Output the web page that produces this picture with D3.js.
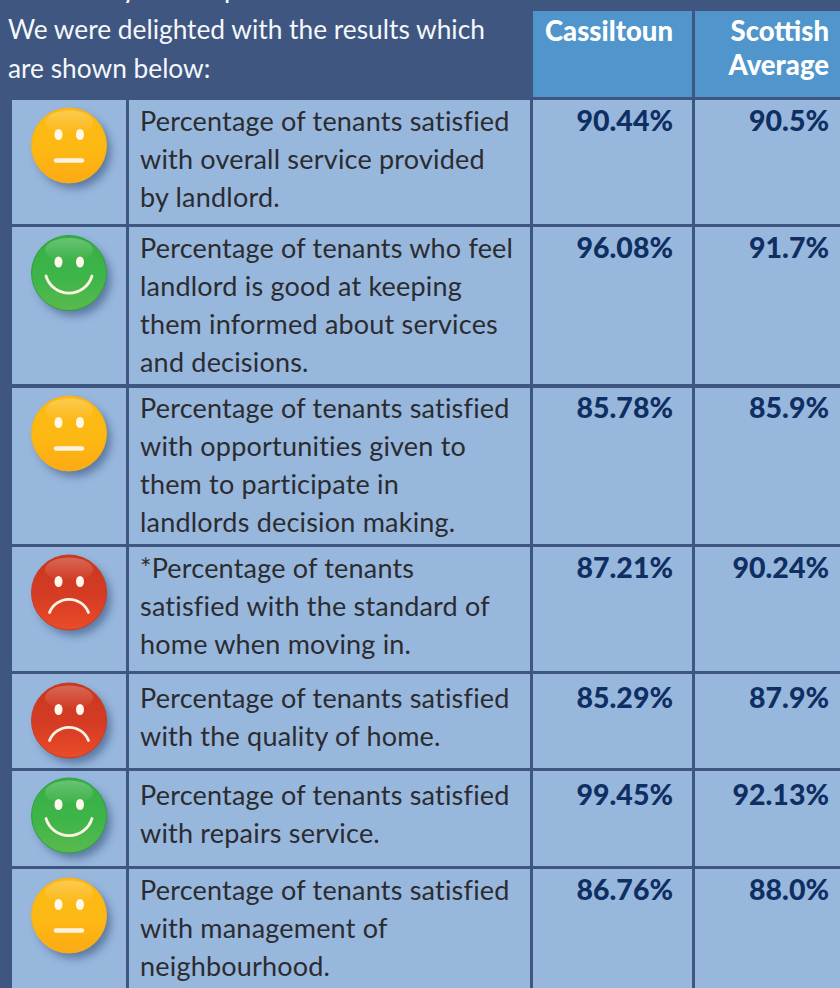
<!DOCTYPE html>
<html>
<head>
<meta charset="utf-8">
<style>
  html, body { margin: 0; padding: 0; background: #3e5680; overflow: hidden; }
  svg { display: block; }
  text { font-family: Lato, "Noto Sans", sans-serif; }
</style>
<script src="https://cdn.jsdelivr.net/npm/d3@7/dist/d3.min.js"></script>
</head>
<body>
<svg class="js-chart"></svg>
<script>
var introLines = ["We were delighted with the results which", "are shown below:"];
var columnHeads = [["Cassiltoun"], ["Scottish", "Average"]];

var moods = ["neutral", "happy", "neutral", "sad", "sad", "happy", "neutral"];
var cassiltoun = ["90.44%", "96.08%", "85.78%", "87.21%", "85.29%", "99.45%", "86.76%"];
var scottishAverage = ["90.5%", "91.7%", "85.9%", "90.24%", "87.9%", "92.13%", "88.0%"];
var questions = [
    ["Percentage of tenants satisfied", "with overall service provided", "by landlord."],
    ["Percentage of tenants who feel", "landlord is good at keeping", "them informed about services", "and decisions."],
    ["Percentage of tenants satisfied", "with opportunities given to", "them to participate in", "landlords decision making."],
    ["*Percentage of tenants", "satisfied with the standard of", "home when moving in."],
    ["Percentage of tenants satisfied", "with the quality of home."],
    ["Percentage of tenants satisfied", "with repairs service."],
    ["Percentage of tenants satisfied", "with management of", "neighbourhood."]
];

var width = 840, height = 988;
var rowTops = [100, 227, 388, 547, 674, 771, 869];
var rowBottoms = [224, 384, 544, 671, 768, 866, 988];
var baselines = [131, 258, 418, 578, 708, 805, 900];
var faceCentres = [145.5, 273, 433.5, 592.5, 720.5, 815.5, 915.5];
var lineHeight = 38;

var moodColour = d3.scaleOrdinal()
    .domain(["neutral", "happy", "sad"])
    .range([
        { top: "#fcb814", mid: "#fdb913", low: "#fcaa14", edge: "#fbb310" },
        { top: "#37ae45", mid: "#3db549", low: "#5aba4d", edge: "#2aa33e" },
        { top: "#c8361f", mid: "#d63c24", low: "#ea4c28", edge: "#c93a20" }
    ]);

var svg = d3.select(".js-chart").attr("width", width).attr("height", height);
var defs = svg.append("defs");

var shadow = defs.append("filter").attr("id", "face-shadow")
    .attr("x", "-30%").attr("y", "-30%").attr("width", "170%").attr("height", "170%");
shadow.append("feGaussianBlur").attr("stdDeviation", 4);

moodColour.domain().forEach(function (mood) {
    var c = moodColour(mood);
    var body = defs.append("linearGradient").attr("id", "body-" + mood)
        .attr("x1", 0).attr("y1", 0).attr("x2", 0).attr("y2", 1);
    body.append("stop").attr("offset", "0%").attr("stop-color", c.top);
    body.append("stop").attr("offset", "55%").attr("stop-color", c.mid);
    body.append("stop").attr("offset", "100%").attr("stop-color", c.low);
});

var shine = defs.append("linearGradient").attr("id", "face-shine")
    .attr("x1", 0).attr("y1", 0).attr("x2", 0).attr("y2", 1);
shine.append("stop").attr("offset", "0%").attr("stop-color", "#fff").attr("stop-opacity", 0.25);
shine.append("stop").attr("offset", "100%").attr("stop-color", "#fff").attr("stop-opacity", 0);

// header band
svg.append("text")
    .attr("x", 8).attr("y", -2)
    .attr("fill", "#fff")
    .style("font-size", "27px")
    .text("collated by the responses.");

svg.selectAll(".intro").data(introLines)
    .enter().append("text")
        .attr("class", "intro")
        .attr("x", 8)
        .attr("y", function (d, i) { return 39 + i * 39; })
        .attr("fill", "#f4f7fb")
        .style("font-size", "26.3px")
        .text(String);

var columns = [
    { x: 533, w: 159, right: 673, head: columnHeads[0], values: cassiltoun },
    { x: 695, w: 145, right: 829, head: columnHeads[1], values: scottishAverage }
];

var heads = svg.selectAll(".head").data(columns)
    .enter().append("g").attr("class", "head");
heads.append("rect")
    .attr("x", function (d) { return d.x; })
    .attr("y", 11)
    .attr("width", function (d) { return d.w; })
    .attr("height", 86)
    .attr("fill", "#5095cc");
heads.selectAll("text").data(function (d) {
        return d.head.map(function (t) { return { text: t, right: d.right }; });
    })
    .enter().append("text")
        .attr("x", function (d) { return d.right; })
        .attr("y", function (d, i) { return 41 + i * 34; })
        .attr("text-anchor", "end")
        .attr("fill", "#fff")
        .style("font-size", "27.5px")
        .style("font-weight", 900)
        .text(function (d) { return d.text; });

// table rows
var rows = svg.selectAll(".row").data(questions)
    .enter().append("g")
        .attr("class", "row");

[{ x: 12, w: 114 }, { x: 129, w: 401 }, { x: 533, w: 159 }, { x: 695, w: 145 }].forEach(function (cell) {
    rows.append("rect")
        .attr("x", cell.x)
        .attr("y", function (d, i) { return rowTops[i]; })
        .attr("width", cell.w)
        .attr("height", function (d, i) { return rowBottoms[i] - rowTops[i]; })
        .attr("fill", "#98b7dd");
});

rows.each(function (lines, i) {
    d3.select(this).selectAll(".question").data(lines)
        .enter().append("text")
            .attr("class", "question")
            .attr("x", 140)
            .attr("y", function (d, j) { return baselines[i] + j * lineHeight; })
            .attr("fill", "#2b2c30")
            .style("font-size", "27px")
            .style("letter-spacing", "0.2px")
            .text(String);
});

columns.forEach(function (col) {
    rows.append("text")
        .attr("x", col.right)
        .attr("y", function (d, i) { return baselines[i]; })
        .attr("text-anchor", "end")
        .attr("fill", "#0f2f63")
        .style("font-size", "28.5px")
        .style("font-weight", 900)
        .text(function (d, i) { return col.values[i]; });
});

// smiley faces
var faces = rows.append("g")
    .attr("class", "face")
    .attr("transform", function (d, i) { return "translate(69," + faceCentres[i] + ")"; });

faces.append("circle")
    .attr("cx", 5).attr("cy", 6).attr("r", 37)
    .attr("fill", "#34507c")
    .attr("fill-opacity", 0.6)
    .attr("filter", "url(#face-shadow)");
faces.append("circle")
    .attr("r", 37.5)
    .attr("fill", function (d, i) { return "url(#body-" + moods[i] + ")"; })
    .attr("stroke", function (d, i) { return moodColour(moods[i]).edge; })
    .attr("stroke-width", 1);
faces.append("ellipse")
    .attr("cy", -23).attr("rx", 24).attr("ry", 12)
    .attr("fill", "url(#face-shine)");
faces.selectAll(".eye").data([-10.5, 11])
    .enter().append("ellipse")
        .attr("class", "eye")
        .attr("cx", Number).attr("cy", -11)
        .attr("rx", 4).attr("ry", 5.5)
        .attr("fill", "#fff8ea");
faces.append("path")
    .attr("d", function (d, i) {
        var mood = moods[i];
        if (mood === "happy") return "M-23,3 A24,24 0 0 0 23,3";
        if (mood === "sad") return "M-19.5,20 A21,21 0 0 1 19.5,20";
        return "M-13,15 L13,15";
    })
    .attr("fill", "none")
    .attr("stroke", "#fdf3e3")
    .attr("stroke-width", function (d, i) { return moods[i] === "neutral" ? 4.5 : 2.8; })
    .attr("stroke-linecap", "round");
</script>
</body>
</html>
